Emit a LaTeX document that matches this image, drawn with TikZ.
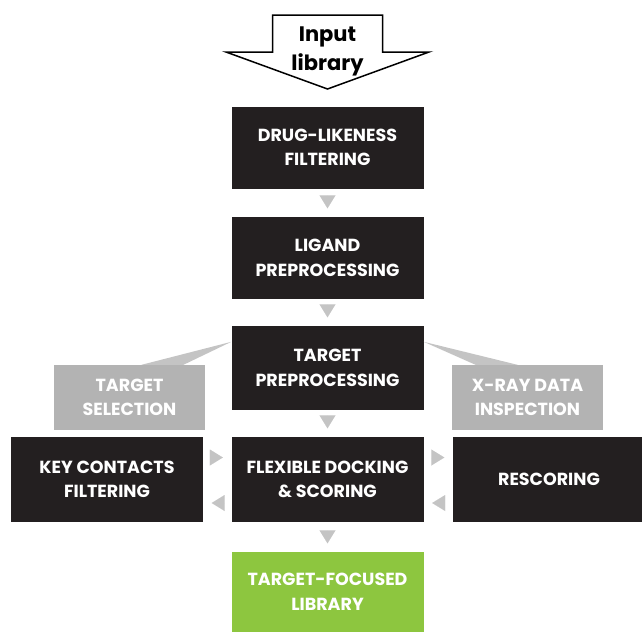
\documentclass[tikz,border=0pt]{standalone}
\usepackage{fontspec}
\setmainfont{Poppins}
\usepackage{tikz}
\usetikzlibrary{arrows.meta,calc}
\definecolor{boxDark}{HTML}{231F20}
\definecolor{boxGray}{HTML}{B3B3B3}
\definecolor{triGray}{HTML}{C4C4C4}
\definecolor{libGreen}{HTML}{8DC63F}
\newcommand\boxfont{\fontsize{17.5}{24.5}\selectfont\bfseries}

\begin{document}
\begin{tikzpicture}[x=1pt,y=-1pt,
  darkbox/.style={fill=boxDark,text=white,minimum width=192pt,minimum height=82pt,
    align=center,inner sep=0pt,font=\boxfont},
  graybox/.style={darkbox,fill=boxGray,minimum width=151pt,minimum height=65pt},
  greenbox/.style={darkbox,fill=libGreen},
  flow/.style={draw=triGray,line width=0.01pt,shorten <=8.5pt,shorten >=8.5pt,
    -{Triangle[width=16pt,length=13pt]},triGray},
  wedge/.style={fill=triGray}
]
  \useasboundingbox (0,0) rectangle (642,632);
  % input arrow
  \draw[line width=1.5pt,line join=miter,fill=white]
    (272.5,15) -- (382.5,15) -- (382.5,52) -- (429,52) -- (327.5,89)
    -- (226,52) -- (272.5,52) -- cycle;
  \node[font=\fontsize{21}{29}\selectfont\bfseries,align=center] (input) at (327.5,51) {Input\\library};

  \node[darkbox] (drug) at (327.5,147.5) {DRUG-LIKENESS\\FILTERING};
  \node[darkbox] (ligand) at (327.5,258) {LIGAND\\PREPROCESSING};
  \node[darkbox,minimum height=84pt] (target) at (327.5,368) {TARGET\\PREPROCESSING};
  \node[graybox] (tsel) at (129.5,397.5) {TARGET\\SELECTION};
  \node[graybox] (xray) at (527.5,397.5) {X-RAY DATA\\INSPECTION};
  \node[darkbox,minimum height=85pt] (keyc) at (107,479.5) {KEY CONTACTS\\FILTERING};
  \node[darkbox,minimum height=85pt] (flex) at (327.5,479.5) {FLEXIBLE DOCKING\\\& SCORING};
  \node[darkbox,minimum height=85pt] (rescore) at (549,479.5) {RESCORING};
  \node[greenbox,minimum height=80pt] (focused) at (327.5,592) {TARGET-FOCUSED\\LIBRARY};

  % wedges to the side inputs
  \fill[wedge] ([yshift=-16pt]target.north west) -- ([xshift=12pt]tsel.north)
    -- ([xshift=54pt]tsel.north) -- cycle;
  \fill[wedge] ([yshift=-16pt]target.north east) -- ([xshift=-52pt]xray.north)
    -- ([xshift=-10pt]xray.north) -- cycle;

  \draw[flow] (drug) -- (ligand);
  \draw[flow] (ligand) -- (target);
  \draw[flow] (target) -- (flex);
  \draw[flow] (flex) -- (focused);
  \draw[flow] ([yshift=22pt]keyc.east) -- ([yshift=22pt]flex.west);
  \draw[flow] ([yshift=-23.5pt]flex.west) -- ([yshift=-23.5pt]keyc.east);
  \draw[flow] ([yshift=22pt]flex.east) -- ([yshift=22pt]rescore.west);
  \draw[flow] ([yshift=-23.5pt]rescore.west) -- ([yshift=-23.5pt]flex.east);
\end{tikzpicture}
\end{document}
